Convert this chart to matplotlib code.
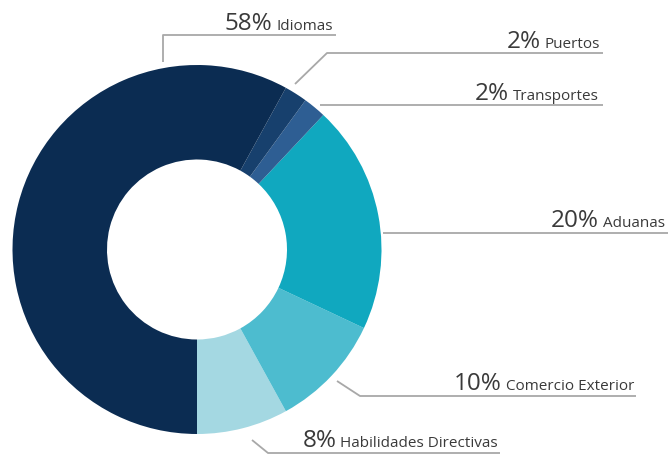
import matplotlib
matplotlib.use("Agg")
import matplotlib.pyplot as plt

plt.rcParams['font.family'] = ['Open Sans', 'DejaVu Sans']

# data
categories = ['Habilidades Directivas', 'Comercio Exterior', 'Aduanas',
              'Transportes', 'Puertos', 'Idiomas']
values = [8, 10, 20, 2, 2, 58]
colors = ['#a4d8e2', '#4dbccf', '#10a8bf', '#2e5e93', '#17406d', '#0b2c52']

W, H = 669, 454
fig = plt.figure(figsize=(W / 100, H / 100), dpi=100)
ax = fig.add_axes([0, 0, 1, 1])

# donut, in pixel coordinates (y measured from the bottom)
cx, cy, r_out, r_in = 197, H - 249.5, 184.5, 90
ax.pie(values, colors=colors, startangle=-90, counterclock=True,
       radius=r_out, center=(cx, cy),
       wedgeprops=dict(width=r_out - r_in, linewidth=0))
ax.set_xlim(0, W)
ax.set_ylim(0, H)
ax.set_aspect('equal')
ax.axis('off')

line_kw = dict(color='#a8a8a8', lw=1.3, solid_capstyle='butt')

def px(pts):
    return [p[0] for p in pts], [H - p[1] for p in pts]

# leader lines (image pixel coords)
leaders = {
    'Idiomas': [(163, 62), (163, 35), (336, 35)],
    'Puertos': [(295, 84), (327, 53), (603, 53)],
    'Transportes': [(320, 105), (603, 105)],
    'Aduanas': [(383, 233), (668, 233)],
    'Comercio Exterior': [(337, 381), (360, 396), (636, 396)],
    'Habilidades Directivas': [(252, 440), (268, 453), (500, 453)],
}
for pts in leaders.values():
    xs, ys = px(pts)
    ax.plot(xs, ys, **line_kw)

# label anchors: right end x, baseline y
label_pos = {
    'Idiomas': (333, 30),
    'Puertos': (600, 48),
    'Transportes': (599, 100),
    'Aduanas': (665, 227),
    'Comercio Exterior': (634, 390),
    'Habilidades Directivas': (498, 447),
}

fig.canvas.draw()
renderer = fig.canvas.get_renderer()
for name, val in zip(categories, values):
    x, y = label_pos[name]
    t = ax.text(x, H - y, name, ha='right', va='baseline',
                fontsize=11, color='#3a3a3a')
    bb = t.get_window_extent(renderer)
    ax.text(bb.x0 - 4, H - y, f'{val}%', ha='right', va='baseline',
            fontsize=17.5, color='#3a3a3a')

fig.savefig('out.png', dpi=100)
